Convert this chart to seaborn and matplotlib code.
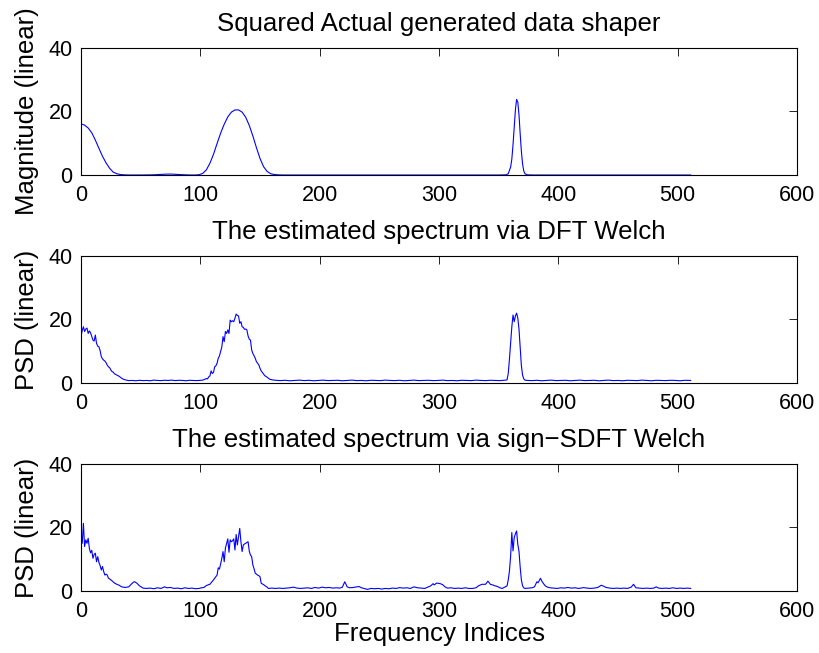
import numpy as np
import pandas as pd
import matplotlib
matplotlib.use("Agg")
import matplotlib.pyplot as plt
import seaborn as sns

# ---- data -------------------------------------------------------------
# Squared shaper (true spectrum), sampled along the frequency index axis
shaper_idx = [0, 3, 6, 9, 12, 15, 18, 21, 24, 27, 30, 33, 36, 40, 45, 50, 60, 65,
              70, 75, 80, 85, 90, 96, 99, 102, 105, 108, 111, 114, 117, 120, 123,
              126, 129, 132, 135, 138, 141, 144, 147, 150, 153, 156, 159, 162, 166,
              170, 200, 300, 350, 356, 358, 360, 361, 362, 363, 364, 365, 366, 367,
              368, 369, 370, 371, 372, 374, 380, 450, 511]
shaper_val = [16.1, 15.7, 14.8, 13.3, 11.0, 8.4, 5.9, 3.8, 2.1, 0.9, 0.4, 0.15, 0.05,
              0.0, 0.0, 0.0, 0.05, 0.15, 0.25, 0.3, 0.2, 0.1, 0.02, 0.0, 0.1, 0.5,
              1.6, 3.7, 6.5, 9.9, 13.2, 16.0, 18.3, 19.8, 20.5, 20.5, 19.8, 18.2,
              15.6, 12.3, 8.6, 5.2, 2.6, 1.1, 0.4, 0.15, 0.03, 0.0, 0.0, 0.0, 0.0,
              0.05, 0.4, 2.5, 5.0, 9.5, 15.0, 20.5, 23.8, 23.0, 19.0, 13.0, 7.5, 3.5,
              1.3, 0.4, 0.05, 0.0, 0.0, 0.0]

# Welch estimate using the DFT
dft_idx = [0, 1, 2, 3, 4, 5, 6, 7, 8, 9, 10, 11, 12, 13, 14, 15, 16, 17, 18, 19, 20,
           21, 22, 23, 24, 25, 26, 27, 28, 30, 32, 34, 36, 38, 40, 43, 46, 49, 52,
           55, 58, 61, 64, 67, 70, 73, 76, 79, 82, 85, 88, 91, 94, 97, 100, 102,
           104, 105, 106, 107, 108, 109, 110, 111, 112, 113, 114, 115, 116, 117,
           118, 119, 120, 121, 122, 123, 124, 125, 126, 127, 128, 129, 130, 131,
           132, 133, 134, 135, 136, 137, 138, 139, 140, 141, 142, 143, 144, 145,
           146, 147, 148, 149, 150, 151, 152, 153, 154, 156, 158, 160, 163, 167,
           171, 175, 179, 183, 187, 191, 195, 199, 203, 207, 211, 215, 219, 223,
           227, 231, 235, 239, 243, 247, 251, 255, 259, 263, 267, 271, 275, 279,
           283, 287, 291, 295, 299, 303, 307, 311, 315, 319, 323, 327, 331, 335,
           339, 343, 347, 351, 354, 356, 357, 358, 359, 360, 361, 362, 363, 364,
           365, 366, 367, 368, 369, 370, 371, 372, 374, 378, 382, 386, 390, 394,
           398, 402, 406, 410, 414, 418, 422, 426, 430, 434, 438, 442, 446, 450,
           454, 458, 462, 466, 470, 474, 478, 482, 486, 490, 494, 498, 502, 506,
           511]
dft_val = [14.8, 16.5, 17.7, 16.2, 17.0, 17.3, 15.6, 16.4, 15.8, 14.6, 13.5, 13.2,
           15.1, 12.5, 11.6, 11.4, 10.2, 8.3, 7.6, 7.2, 6.9, 6.4, 5.6, 5.1, 4.8, 4.1,
           3.6, 3.4, 2.9, 2.5, 2.1, 1.5, 1.1, 0.9, 0.75, 0.8, 0.7, 0.85, 0.75, 0.8,
           0.7, 0.9, 0.8, 0.75, 0.85, 0.8, 0.9, 0.75, 0.85, 0.8, 0.7, 0.85, 0.8,
           0.75, 0.85, 0.9, 1.2, 1.4, 1.3, 1.9, 2.2, 3.8, 3.0, 3.3, 5.1, 5.4, 6.2,
           7.8, 8.5, 9.9, 11.4, 14.6, 13.0, 16.2, 15.6, 16.7, 15.6, 19.8, 19.3,
           19.6, 19.3, 20.4, 21.7, 21.3, 21.1, 18.8, 19.3, 17.7, 17.5, 16.9, 17.0,
           16.7, 14.8, 13.8, 13.5, 10.4, 9.3, 8.6, 7.8, 6.7, 6.2, 5.7, 4.6, 3.8,
           3.3, 2.8, 2.3, 1.8, 1.2, 1.0, 0.85, 0.75, 0.85, 0.7, 0.8, 0.9, 0.75,
           0.85, 0.7, 0.8, 0.9, 0.75, 0.8, 0.85, 0.7, 0.8, 0.9, 0.75, 0.8, 0.7,
           0.85, 0.8, 0.75, 0.9, 0.8, 0.75, 0.85, 0.7, 0.8, 0.9, 0.75, 0.8, 0.85,
           0.75, 0.8, 0.9, 0.75, 0.8, 0.7, 0.85, 0.8, 0.75, 0.9, 0.8, 0.75, 0.85,
           0.8, 0.75, 0.85, 0.9, 1.0, 3.0, 7.5, 12.5, 17.7, 21.4, 19.3, 21.1, 22.0,
           20.5, 17.0, 11.4, 5.5, 2.5, 1.3, 0.9, 0.8, 0.75, 0.85, 0.7, 0.8, 0.9,
           0.75, 0.8, 0.85, 0.7, 0.8, 0.9, 0.75, 0.8, 0.85, 0.7, 0.8, 0.9, 0.75,
           0.8, 0.7, 0.85, 0.8, 0.75, 0.9, 0.8, 0.7, 0.85, 0.8, 0.75, 0.85, 0.8,
           0.7, 0.85, 0.8]

# Welch estimate using the sign-SDFT
sdft_idx = [0, 1, 2, 3, 4, 5, 6, 7, 8, 9, 10, 11, 12, 13, 14, 15, 16, 17, 18, 19,
            20, 21, 22, 23, 24, 26, 28, 30, 32, 34, 37, 40, 42, 44, 45, 47, 49, 52,
            55, 58, 61, 64, 67, 70, 72, 75, 78, 81, 84, 87, 90, 93, 96, 99, 101,
            103, 105, 107, 108, 110, 111, 113, 114, 115, 116, 117, 118, 119, 120,
            121, 122, 123, 124, 125, 126, 127, 128, 129, 130, 131, 132, 133, 134,
            135, 136, 137, 138, 139, 140, 141, 142, 143, 144, 145, 146, 147, 148,
            149, 150, 151, 153, 154, 156, 157, 160, 163, 166, 169, 172, 175, 178,
            181, 184, 187, 190, 193, 196, 199, 202, 205, 208, 211, 214, 217, 219,
            221, 223, 225, 228, 231, 233, 235, 238, 240, 243, 246, 249, 252, 255,
            258, 261, 264, 267, 270, 273, 276, 279, 282, 285, 288, 291, 293, 295,
            296, 298, 301, 303, 305, 307, 310, 313, 316, 319, 322, 325, 328, 331,
            333, 336, 339, 341, 343, 345, 347, 349, 351, 353, 355, 357, 358, 359,
            360, 361, 362, 363, 364, 365, 366, 367, 368, 369, 370, 371, 372, 375,
            378, 380, 382, 383, 385, 386, 387, 389, 391, 393, 396, 399, 402, 405,
            408, 411, 414, 417, 421, 424, 427, 430, 433, 436, 438, 440, 443, 446,
            449, 452, 455, 458, 461, 463, 465, 468, 471, 474, 477, 480, 482, 484,
            487, 490, 493, 496, 499, 502, 505, 508, 511]
sdft_val = [17.5, 15.0, 21.3, 14.0, 16.1, 15.0, 16.6, 13.4, 12.0, 12.8, 10.3, 11.5,
            11.9, 9.2, 10.8, 9.0, 8.0, 6.6, 7.7, 6.1, 5.0, 5.3, 5.0, 4.0, 3.8, 3.2,
            2.5, 2.1, 1.8, 1.3, 1.1, 1.3, 2.1, 2.8, 2.9, 2.4, 1.6, 0.9, 0.8, 0.9,
            0.7, 1.0, 0.8, 1.3, 1.0, 1.1, 0.8, 0.9, 0.7, 1.0, 0.8, 0.9, 0.7, 0.8,
            1.0, 1.1, 1.7, 2.0, 2.1, 3.0, 3.5, 4.5, 5.0, 7.3, 6.9, 8.5, 10.3, 12.4,
            9.2, 13.5, 15.0, 16.4, 12.2, 16.1, 15.5, 15.8, 16.4, 12.9, 17.8, 14.5,
            17.0, 19.7, 15.5, 12.4, 14.5, 14.8, 15.0, 15.3, 15.5, 12.5, 11.3, 10.8,
            8.2, 7.0, 5.6, 5.3, 5.0, 4.8, 4.5, 2.4, 2.0, 1.7, 1.2, 0.8, 0.9, 0.8,
            0.9, 0.8, 0.9, 1.0, 1.2, 0.9, 0.8, 0.9, 1.0, 0.8, 1.1, 0.9, 1.2, 1.0,
            1.1, 0.9, 1.0, 0.9, 1.2, 2.9, 1.3, 1.0, 1.1, 1.3, 1.4, 1.0, 0.7, 0.5,
            0.8, 0.7, 0.8, 0.6, 0.8, 0.7, 0.9, 0.8, 1.05, 0.9, 1.0, 0.8, 1.3, 1.0,
            0.9, 0.8, 1.3, 1.6, 2.3, 1.9, 2.5, 2.3, 2.0, 1.3, 0.9, 1.0, 0.8, 0.9,
            0.8, 1.0, 0.8, 0.8, 1.0, 1.6, 2.1, 2.1, 3.1, 2.1, 1.9, 1.6, 1.4, 1.0,
            0.8, 1.2, 1.6, 3.5, 6.3, 11.0, 18.4, 12.6, 16.8, 18.0, 18.9, 14.7, 12.5,
            7.5, 3.5, 1.6, 1.0, 0.8, 0.9, 1.0, 1.3, 2.9, 2.6, 4.0, 3.2, 2.6, 1.6,
            1.2, 1.0, 0.9, 0.8, 1.0, 0.9, 1.1, 0.9, 1.0, 0.8, 1.05, 0.9, 0.8, 0.9,
            1.1, 1.8, 1.5, 1.1, 0.9, 0.8, 0.9, 0.8, 0.9, 0.8, 1.2, 2.1, 1.0, 0.9,
            0.8, 0.9, 0.8, 0.9, 1.3, 0.9, 0.8, 0.9, 0.8, 1.0, 0.8, 0.9, 0.8, 0.9,
            0.8]

titles = ["Squared Actual generated data shaper",
          "The estimated spectrum via DFT Welch",
          "The estimated spectrum via sign\u2212SDFT Welch"]
ylabels = ["Magnitude (linear)", "PSD (linear)", "PSD (linear)"]
xlabel = "Frequency Indices"
xticks = [0, 100, 200, 300, 400, 500, 600]
yticks = [0, 20, 40]

# ---- styling ----------------------------------------------------------
sns.set_theme(style="white")
plt.rcParams["font.family"] = ["Liberation Sans", "DejaVu Sans"]
plt.rcParams["axes.edgecolor"] = "black"
plt.rcParams["axes.linewidth"] = 0.8

fig = plt.figure(figsize=(8.2, 6.53), dpi=100)
left, width, height = 0.0988, 0.8732, 0.1945
bottoms = [0.732, 0.4135, 0.095]

series = [(shaper_idx, shaper_val), (dft_idx, dft_val), (sdft_idx, sdft_val)]

for i, ((xi, yi), title, ylab) in enumerate(zip(series, titles, ylabels)):
    ax = fig.add_axes([left, bottoms[i], width, height])
    df = pd.DataFrame({"index": xi, "value": yi})
    sns.lineplot(data=df, x="index", y="value", ax=ax, color="#0000ff",
                 linewidth=0.8, estimator=None, sort=False)
    ax.set_xlim(0, 600)
    ax.set_ylim(0, 40)
    ax.set_xticks(xticks)
    ax.set_yticks(yticks)
    ax.tick_params(direction="in", top=True, right=True, length=6, width=0.6,
                   color="black", labelsize=15.5, labelcolor="black")
    ax.tick_params(axis="x", pad=7)
    ax.tick_params(axis="y", pad=6)
    ax.set_title(title, fontsize=18.6, color="black", pad=12)
    ax.set_ylabel(ylab, fontsize=18.5, color="black", labelpad=7)
    if i == 2:
        ax.set_xlabel(xlabel, fontsize=18.6, color="black", labelpad=0)
    else:
        ax.set_xlabel("")
    for s in ax.spines.values():
        s.set_visible(True)
        s.set_color("black")

fig.savefig("out.png", dpi=100)
